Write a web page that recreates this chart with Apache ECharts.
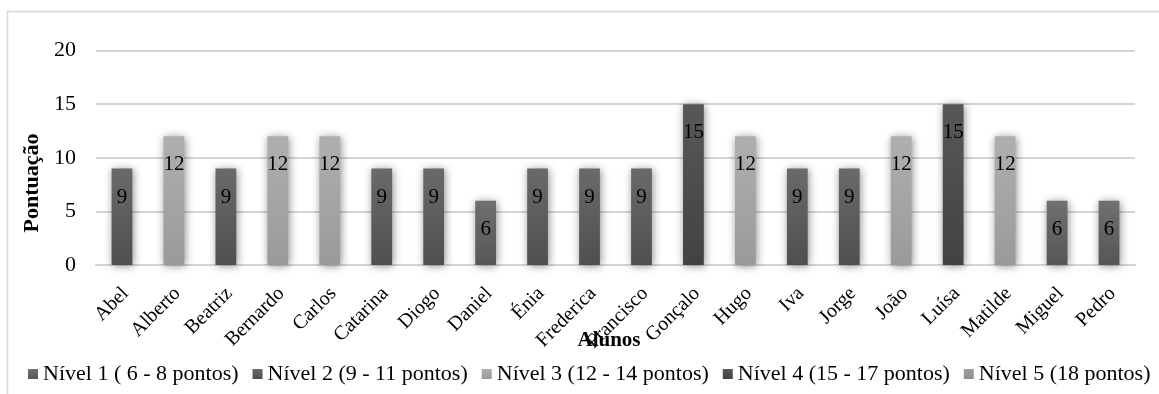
<!DOCTYPE html>
<html>
<head>
<meta charset="utf-8">
<script src="https://cdn.jsdelivr.net/npm/echarts@6/dist/echarts.min.js"></script>
<style>
  html, body { margin: 0; padding: 0; background: #ffffff; }
  #chart { width: 1159px; height: 394px; }
</style>
</head>
<body>
<div id="chart"></div>
<script>
// Students and their scores
const alunos = ['Abel', 'Alberto', 'Beatriz', 'Bernardo', 'Carlos', 'Catarina', 'Diogo', 'Daniel', 'Énia', 'Frederica',
  'Francisco', 'Gonçalo', 'Hugo', 'Iva', 'Jorge', 'João', 'Luísa', 'Matilde', 'Miguel', 'Pedro'];
const pontuacao = [9, 12, 9, 12, 12, 9, 9, 6, 9, 9, 9, 15, 12, 9, 9, 12, 15, 12, 6, 6];

// Score levels
const niveis = ['Nível 1 ( 6 - 8 pontos)', 'Nível 2 (9 - 11 pontos)', 'Nível 3 (12 - 14 pontos)',
  'Nível 4 (15 - 17 pontos)', 'Nível 5 (18 pontos)'];
const limites = [[6, 8], [9, 11], [12, 14], [15, 17], [18, 20]];

const yTicks = [0, 5, 10, 15, 20];

const SERIF = '"Liberation Serif", "Times New Roman", serif';

// top / bottom shades of each level's bar
const tons = [
  ['#707070', '#565656'],
  ['#6a6a6a', '#4f4f4f'],
  ['#afafaf', '#9a9a9a'],
  ['#585858', '#424242'],
  ['#a0a0a0', '#8e8e8e']
];

function grad(c) {
  return new echarts.graphic.LinearGradient(0, 0, 0, 1, [
    { offset: 0, color: c[0] },
    { offset: 1, color: c[1] }
  ]);
}

const series = niveis.map((nome, i) => ({
  name: nome,
  type: 'bar',
  stack: 'alunos',
  barWidth: '40%',
  data: pontuacao.map(v => (v >= limites[i][0] && v <= limites[i][1]) ? v : null),
  itemStyle: {
    color: grad(tons[i]),
    shadowColor: 'rgba(0,0,0,0.45)',
    shadowBlur: 9,
    shadowOffsetX: 1,
    shadowOffsetY: 1
  },
  label: {
    show: true,
    position: 'insideTop',
    distance: 18,
    color: '#000',
    fontFamily: SERIF,
    fontSize: 21
  }
}));

const chart = echarts.init(document.getElementById('chart'));
chart.setOption({
  backgroundColor: '#ffffff',
  animation: false,
  grid: { left: 96, right: 24, top: 50.6, bottom: 129 },
  xAxis: {
    type: 'category',
    data: alunos,
    axisLine: { lineStyle: { color: '#d4d4d4', width: 2 } },
    axisTick: { show: false },
    axisLabel: {
      rotate: 45,
      margin: 22,
      interval: 0,
      align: 'right',
      verticalAlign: 'top',
      lineHeight: 10,
      color: '#000',
      fontFamily: SERIF,
      fontSize: 20
    }
  },
  yAxis: {
    type: 'value',
    min: yTicks[0],
    max: yTicks[yTicks.length - 1],
    interval: 5,
    axisLine: { show: false },
    axisTick: { show: false },
    splitLine: { lineStyle: { color: '#d4d4d4', width: 2 } },
    axisLabel: {
      margin: 20,
      color: '#000',
      fontFamily: SERIF,
      fontSize: 22
    }
  },
  legend: {
    data: niveis,
    left: 28,
    top: 363,
    width: 1131,
    padding: 0,
    icon: 'rect',
    itemWidth: 10,
    itemHeight: 10,
    itemGap: 14,
    textStyle: { color: '#000', fontFamily: SERIF, fontSize: 22 }
  },
  graphic: [
    {
      type: 'rect',
      silent: true,
      shape: { x: 7.5, y: 11.5, width: 1300, height: 500 },
      style: { fill: 'none', stroke: '#d6d6d6', lineWidth: 1.5 },
      z: -1
    },
    {
      type: 'text',
      x: 32,
      y: 183,
      rotation: Math.PI / 2,
      style: {
        text: 'Pontuação',
        fontFamily: SERIF,
        fontWeight: 'bold',
        fontSize: 22,
        fill: '#000',
        align: 'center',
        verticalAlign: 'middle'
      }
    },
    {
      type: 'text',
      x: 609,
      y: 341,
      style: {
        text: 'Alunos',
        fontFamily: SERIF,
        fontWeight: 'bold',
        fontSize: 21,
        fill: '#000',
        align: 'center',
        verticalAlign: 'middle'
      }
    }
  ],
  series: series
});
</script>
</body>
</html>
